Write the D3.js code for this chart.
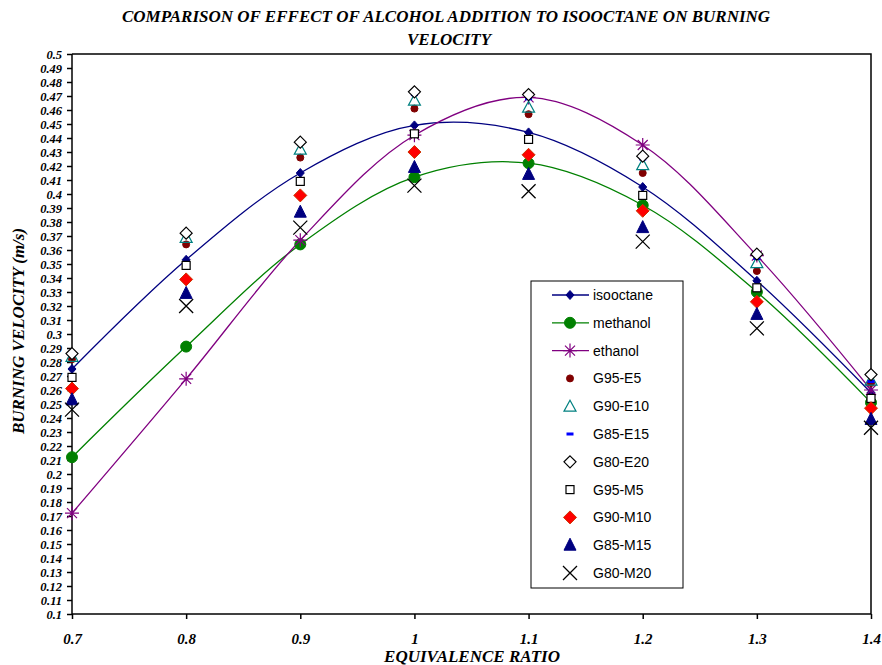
<!DOCTYPE html>
<html>
<head>
<meta charset="utf-8">
<script src="https://cdn.jsdelivr.net/npm/d3@7"></script>
<style>
  body { margin: 0; background: #fff; }
  svg { display: block; }
  .serif { font-family: "Liberation Serif", "Times New Roman", serif; font-weight: bold; font-style: italic; }
  .legend text { font-family: "Liberation Sans", Arial, sans-serif; font-size: 14px; }
</style>
</head>
<body>
<svg id="chart" width="882" height="665"></svg>
<script>
// equivalence ratio
const ratios = [0.7, 0.8, 0.9, 1.0, 1.1, 1.2, 1.3, 1.4];
const yTicks = d3.range(10, 51).map(d => d / 100);

// burning velocity (m/s)
const isooctane = [0.275, 0.353, 0.415, 0.449, 0.444, 0.405, 0.338, 0.258];
const methanol  = [0.212, 0.291, 0.364, 0.412, 0.422, 0.392, 0.330, 0.251];
const ethanol   = [0.172, 0.268, 0.367, 0.442, 0.469, 0.435, 0.356, 0.260];
const g95e5  = [0.282, 0.364, 0.426, 0.461, 0.457, 0.415, 0.345, 0.265];
const g90e10 = [0.284, 0.369, 0.432, 0.467, 0.462, 0.421, 0.351, 0.267];
const g85e15 = [0.285, 0.371, 0.436, 0.471, 0.468, 0.425, 0.354, 0.266];
const g80e20 = [0.286, 0.372, 0.437, 0.473, 0.471, 0.427, 0.357, 0.271];
const g95m5  = [0.269, 0.349, 0.409, 0.443, 0.439, 0.399, 0.333, 0.254];
const g90m10 = [0.261, 0.339, 0.399, 0.430, 0.428, 0.388, 0.323, 0.247];
const g85m15 = [0.253, 0.329, 0.387, 0.419, 0.414, 0.376, 0.314, 0.239];
const g80m20 = [0.246, 0.320, 0.376, 0.406, 0.402, 0.366, 0.304, 0.233];

const series = [
    {name: "isooctane", values: isooctane, line: "#000080", marker: "diamondSmall", fill: "#000080", stroke: "#000080"},
    {name: "methanol",  values: methanol,  line: "#008000", marker: "circle", fill: "#008000", stroke: "#008000"},
    {name: "ethanol",   values: ethanol,   line: "#800080", marker: "star", fill: "none", stroke: "#800080"},
    {name: "G95-E5",  values: g95e5,  marker: "dot", fill: "#800000", stroke: "#800000"},
    {name: "G90-E10", values: g90e10, marker: "triangleOpen", fill: "none", stroke: "#008080"},
    {name: "G85-E15", values: g85e15, marker: "dash", fill: "#0000ff", stroke: "none"},
    {name: "G80-E20", values: g80e20, marker: "diamondOpen", fill: "#fff", stroke: "#000"},
    {name: "G95-M5",  values: g95m5,  marker: "square", fill: "#fff", stroke: "#000"},
    {name: "G90-M10", values: g90m10, marker: "diamond", fill: "#ff0000", stroke: "#cc3300"},
    {name: "G85-M15", values: g85m15, marker: "triangle", fill: "#000080", stroke: "#000080"},
    {name: "G80-M20", values: g80m20, marker: "cross", fill: "none", stroke: "#000"}
];

const margin = {top: 54, right: 11, bottom: 51, left: 72},
    width = 882 - margin.left - margin.right,
    height = 665 - margin.top - margin.bottom;

const svg = d3.select("#chart");
const g = svg.append("g")
    .attr("transform", "translate(" + margin.left + "," + margin.top + ")");

const x = d3.scaleLinear().domain([0.7, 1.4]).range([0, width]);
const y = d3.scaleLinear().domain([0.1, 0.5]).range([height, 0]);

// frame top / right
g.append("path")
    .attr("d", "M0,0H" + width + "V" + height)
    .attr("fill", "none")
    .attr("stroke", "#000")
    .attr("stroke-width", 1.5);

// y axis
const yAxis = g.append("g")
    .attr("class", "y-axis serif")
    .call(d3.axisLeft(y)
        .tickValues(yTicks)
        .tickSize(5)
        .tickPadding(5)
        .tickFormat(d => d3.format("")(+d.toFixed(2))));
yAxis.selectAll("text").attr("font-size", 12.5).attr("font-family", null);
yAxis.selectAll("line").attr("stroke-width", 1.5);
yAxis.select(".domain").attr("stroke-width", 1.5).attr("d", "M0," + height + "V0");

// x axis
const xAxis = g.append("g")
    .attr("class", "x-axis serif")
    .attr("transform", "translate(0," + height + ")")
    .call(d3.axisBottom(x)
        .tickValues(ratios)
        .tickSize(5)
        .tickPadding(14)
        .tickFormat(d => d3.format("")(+d.toFixed(1))));
xAxis.selectAll("text").attr("font-size", 15).attr("font-family", null);
xAxis.selectAll("line").attr("stroke-width", 1.5);
xAxis.select(".domain").attr("stroke-width", 1.5).attr("d", "M0,0H" + width);

// titles
svg.append("text")
    .attr("class", "serif")
    .attr("x", 446).attr("y", 22)
    .attr("text-anchor", "middle")
    .attr("font-size", 17)
    .text("COMPARISON OF EFFECT OF ALCOHOL ADDITION TO ISOOCTANE ON BURNING");
svg.append("text")
    .attr("class", "serif")
    .attr("x", 449).attr("y", 45)
    .attr("text-anchor", "middle")
    .attr("font-size", 17)
    .text("VELOCITY");
svg.append("text")
    .attr("class", "serif")
    .attr("transform", "translate(24,331) rotate(-90)")
    .attr("text-anchor", "middle")
    .attr("font-size", 17)
    .text("BURNING VELOCITY (m/s)");
svg.append("text")
    .attr("class", "serif")
    .attr("x", 472).attr("y", 662)
    .attr("text-anchor", "middle")
    .attr("font-size", 17)
    .text("EQUIVALENCE RATIO");

// marker drawing
function drawMarker(sel, s) {
    switch (s.marker) {
        case "diamondSmall":
            sel.append("path").attr("d", "M0,-4.5L4,0L0,4.5L-4,0Z");
            break;
        case "circle":
            sel.append("circle").attr("r", 5.5);
            break;
        case "dot":
            sel.append("circle").attr("r", 3.5);
            break;
        case "star":
            sel.append("path").attr("d", "M-7,0H7M0,-7V7M-5,-5L5,5M-5,5L5,-5").attr("stroke-width", 1.2);
            break;
        case "triangleOpen":
            sel.append("path").attr("d", "M0,-6L6,5H-6Z").attr("stroke-width", 1.2);
            break;
        case "triangle":
            sel.append("path").attr("d", "M0,-7L6,5H-6Z");
            break;
        case "dash":
            sel.append("rect").attr("x", -3.5).attr("y", -1.5).attr("width", 7).attr("height", 3);
            break;
        case "diamondOpen":
            sel.append("path").attr("d", "M0,-6L6,0L0,6L-6,0Z").attr("stroke-width", 1.2);
            break;
        case "diamond":
            sel.append("path").attr("d", "M0,-6.5L6.5,0L0,6.5L-6.5,0Z");
            break;
        case "square":
            sel.append("rect").attr("x", -4).attr("y", -4).attr("width", 8).attr("height", 8).attr("stroke-width", 1.2);
            break;
        case "cross":
            sel.append("path").attr("d", "M-7,-7L7,7M-7,7L7,-7").attr("stroke-width", 1.3);
            break;
    }
    sel.selectAll("*")
        .attr("fill", s.fill)
        .attr("stroke", s.stroke);
}

const line = d3.line()
    .x((d, i) => x(ratios[i]))
    .y(d => y(d))
    .curve(d3.curveCatmullRom.alpha(0.5));

series.filter(s => s.line).forEach(function(s) {
    g.append("path")
        .datum(s.values)
        .attr("fill", "none")
        .attr("stroke", s.line)
        .attr("stroke-width", 1.3)
        .attr("d", line);
});

series.forEach(function(s) {
    const pts = g.append("g").attr("class", "series");
    s.values.forEach(function(v, i) {
        const m = pts.append("g")
            .attr("transform", "translate(" + x(ratios[i]) + "," + y(v) + ")");
        drawMarker(m, s);
    });
});

// legend
const legend = svg.append("g")
    .attr("class", "legend")
    .attr("transform", "translate(531,281)");
legend.append("rect")
    .attr("width", 152).attr("height", 307)
    .attr("fill", "#fff")
    .attr("stroke", "#000")
    .attr("stroke-width", 1);

series.forEach(function(s, i) {
    const row = legend.append("g")
        .attr("transform", "translate(0," + (14 + i * 27.8) + ")");
    if (s.line) {
        row.append("line")
            .attr("x1", 21).attr("x2", 58)
            .attr("stroke", s.line).attr("stroke-width", 1.3);
    }
    const m = row.append("g").attr("transform", "translate(39,0)");
    drawMarker(m, s);
    row.append("text")
        .attr("x", 62).attr("y", 5)
        .text(s.name);
});
</script>
</body>
</html>
